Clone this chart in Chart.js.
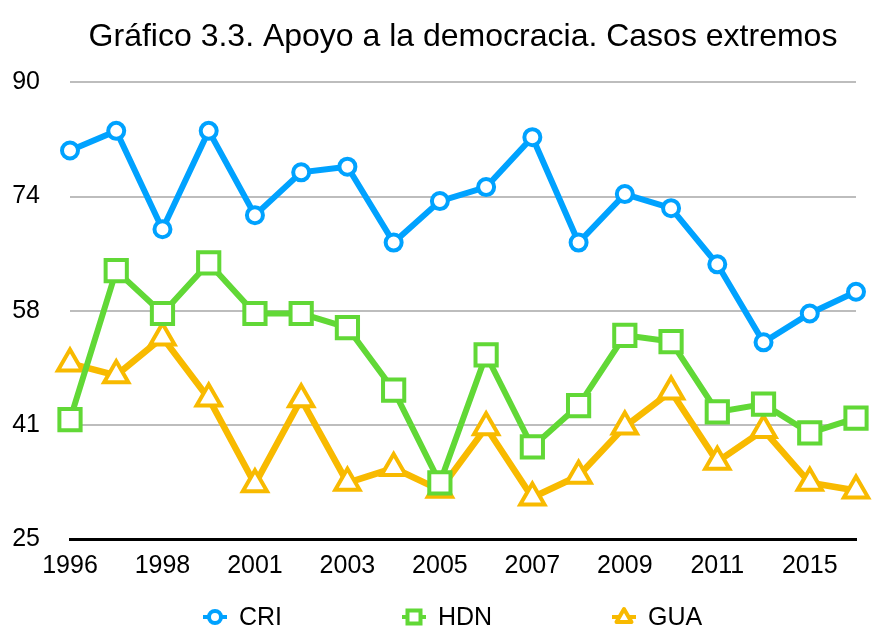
<!DOCTYPE html>
<html>
<head>
<meta charset="utf-8">
<script src="https://cdn.jsdelivr.net/npm/chart.js@4"></script>
<style>
  body { margin: 0; background: #fff; }
  #wrap { position: relative; width: 875px; height: 628px; }
  #legend { position: absolute; left: 0; top: 602px; width: 875px; height: 26px;
    font: 25px "Liberation Sans", Arial, sans-serif; color: #000; }
  .item { position: absolute; top: 0; display: flex; align-items: center; }
  .item svg { margin-right: 12px; }
</style>
</head>
<body>
<div id="wrap">
  <canvas id="chart" width="875" height="628"></canvas>
  <div id="legend"></div>
</div>
<script>
// Data
const YEARS = ["1996", "1997", "1998", "2000", "2001", "2002", "2003", "2004", "2005",
  "2006", "2007", "2008", "2009", "2010", "2011", "2013", "2015", "2016"];
const CRI = [80.3, 83.1, 69.1, 83.1, 71.1, 77.2, 78.0, 67.2, 73.1, 75.1, 82.2, 67.2, 74.1, 72.1, 64.1, 53.0, 57.1, 60.2];
const HDN = [42.0, 63.2, 57.1, 64.3, 57.1, 57.1, 55.1, 46.2, 33.0, 51.2, 38.1, 44.0, 54.0, 53.1, 43.1, 44.2, 40.1, 42.2];
const GUA = [50.0, 48.3, 53.7, 45.0, 32.8, 44.9, 33.0, 35.1, 32.0, 40.9, 30.9, 34.0, 41.0, 46.0, 36.0, 40.5, 33.0, 31.9];
const Y_MIN = 25, Y_MAX = 90, Y_STEP = 16.25;

const FONT = "'Liberation Sans', Arial, sans-serif";
const BLUE = "#00A2FF", GREEN = "#61D836", ORANGE = "#F8BA00";

function series(label, data, color, style, radius, width) {
  return {
    label: label, data: data,
    borderColor: color, borderWidth: width,
    backgroundColor: "#fff",
    pointStyle: style, pointRadius: radius, pointHoverRadius: radius,
    pointBorderWidth: 4, pointBackgroundColor: "#fff", pointBorderColor: color,
    tension: 0, clip: false
  };
}

new Chart(document.getElementById("chart"), {
  type: "line",
  data: {
    labels: YEARS,
    datasets: [
      series("CRI", CRI, BLUE, "circle", 8, 6),
      series("HDN", HDN, GREEN, "rect", 15, 6),
      series("GUA", GUA, ORANGE, "triangle", 14, 6.5)
    ]
  },
  options: {
    responsive: false,
    animation: false,
    events: [],
    layout: { padding: { left: 0, right: 12, top: 0, bottom: 35 } },
    plugins: {
      legend: { display: false },
      tooltip: { enabled: false },
      title: {
        display: true,
        fullSize: false, // centre over the plot, not the canvas
        text: "Gráfico 3.3. Apoyo a la democracia. Casos extremos",
        color: "#000",
        font: { family: FONT, size: 32, weight: "normal" },
        padding: { top: 18, bottom: 26 }
      }
    },
    scales: {
      x: {
        grid: { display: false, drawTicks: false },
        border: { color: "#000", width: 3 },
        ticks: {
          autoSkip: false, maxRotation: 0, padding: 12, color: "#000",
          font: { family: FONT, size: 25 },
          callback: (v, i) => i % 2 === 0 ? YEARS[i] : ""
        }
      },
      y: {
        min: Y_MIN, max: Y_MAX,
        afterFit: s => { s.width = 70; },
        grid: { color: "#bdbdbd", lineWidth: 2, drawTicks: false },
        border: { display: false },
        ticks: {
          stepSize: Y_STEP, padding: 30, color: "#000",
          font: { family: FONT, size: 25 },
          callback: v => Math.round(v)
        }
      }
    }
  }
});

// Legend (icons with line stub + marker)
const LEGEND = [
  { label: "CRI", color: BLUE, shape: "circle", x: 203 },
  { label: "HDN", color: GREEN, shape: "rect", x: 402 },
  { label: "GUA", color: ORANGE, shape: "triangle", x: 612 }
];
const legendDiv = document.getElementById("legend");
LEGEND.forEach(it => {
  let mark;
  if (it.shape === "circle") mark = `<circle cx="12" cy="11" r="6" fill="#fff" stroke="${it.color}" stroke-width="4"/>`;
  else if (it.shape === "rect") mark = `<rect x="5.5" y="4.5" width="13" height="13" fill="#fff" stroke="${it.color}" stroke-width="4"/>`;
  else mark = `<polygon points="12,3 19.5,16 4.5,16" fill="#fff" stroke="${it.color}" stroke-width="4" stroke-linejoin="round"/>`;
  const el = document.createElement("div");
  el.className = "item";
  el.style.left = it.x + "px";
  el.innerHTML = `<svg width="24" height="22"><line x1="0" y1="11" x2="24" y2="11" stroke="${it.color}" stroke-width="4"/>${mark}</svg><span>${it.label}</span>`;
  legendDiv.appendChild(el);
});
</script>
</body>
</html>
